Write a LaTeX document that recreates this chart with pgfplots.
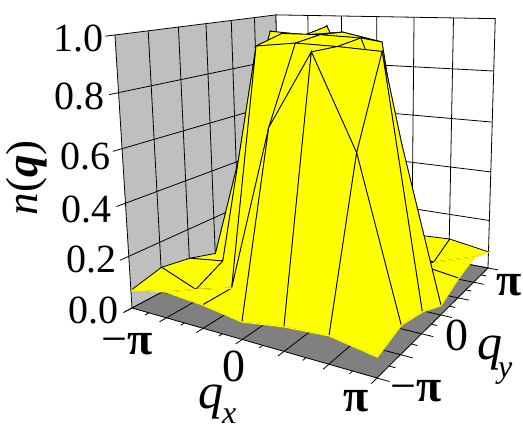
\documentclass[border=0pt]{standalone}
\usepackage{fontspec}
\setmainfont{Liberation Serif}
\usepackage{pgfplots}
\pgfplotsset{compat=1.18}

% camera: grid index i,j (0..6 = -pi..pi) and height w to picture pixels
\newcommand\DEN{(1-.1821*\thisrow{i}/6+.2812*\thisrow{j}/6-.0658*\thisrow{w})}
\newcommand\PX{(132+176.35*\thisrow{i}/6+228*\thisrow{j}/6-24.6*\thisrow{w})/\DEN}
\newcommand\PY{430-(308+1.17*\thisrow{i}/6-14.6*\thisrow{j}/6-275.3*\thisrow{w})/\DEN}
\pgfkeys{/pgfplots/table/cam/.style={x expr=\PX,y expr=\PY},
/pgfplots/table/surfcam/.style={x expr=\PX+5.5*\thisrow{w},y expr=\PY}}
\newcommand\lab{\fontsize{40}{40}\selectfont}
\newcommand\tick{\fontsize{46}{46}\selectfont}
\definecolor{yel}{rgb}{1,1,0}

\begin{document}
\begin{tikzpicture}
\begin{axis}[
width=523pt,height=430pt,scale only axis,
xmin=0,xmax=523,ymin=0,ymax=430,
hide axis,clip=false,no marks,
colormap={yy}{rgb255=(255,255,0) rgb255=(255,255,0)},
]
% walls and floor
\addplot[fill=black!25,draw=black,line width=.8pt] table[cam,row sep=\\]{i j w\\ 0 0 0\\ 0 6 0\\ 0 6 1\\ 0 0 1\\ 0 0 0\\};
\addplot[fill=white,draw=black,line width=.8pt] table[cam,row sep=\\]{i j w\\ 0 6 0\\ 6 6 0\\ 6 6 1\\ 0 6 1\\ 0 6 0\\};
\addplot[fill=black!50,draw=black,line width=.8pt] table[cam,row sep=\\]{i j w\\ 0 0 0\\ 6 0 0\\ 6 6 0\\ 0 6 0\\ 0 0 0\\};
% grid lines
\pgfplotsinvokeforeach{1,...,5}{
\addplot[black,line width=.8pt] table[cam,row sep=\\]{i j w\\ #1 0 0\\ #1 6 0\\};
\addplot[black,line width=.8pt] table[cam,row sep=\\]{i j w\\ 0 #1 0\\ 6 #1 0\\};
\addplot[black,line width=.8pt] table[cam,row sep=\\]{i j w\\ 0 #1 0\\ 0 #1 1\\};
\addplot[black,line width=.8pt] table[cam,row sep=\\]{i j w\\ #1 6 0\\ #1 6 1\\};
}
\pgfplotsinvokeforeach{0.2,0.4,0.6,0.8}{
\addplot[black,line width=.8pt] table[cam,row sep=\\]{i j w\\ 0 0 #1\\ 0 6 #1\\ 6 6 #1\\};
}
% ticks on the three outer edges
\pgfplotsinvokeforeach{0,1,...,6}{
\addplot[black,line width=.8pt] table[cam,row sep=\\]{i j w\\ #1 0 0\\ #1 -0.22 0\\};
\addplot[black,line width=.8pt] table[cam,row sep=\\]{i j w\\ 6 #1 0\\ 6.25 #1 0\\};
}
\pgfplotsinvokeforeach{0.5,1.5,2.5,3.5,4.5,5.5}{
\addplot[black,line width=.8pt] table[cam,row sep=\\]{i j w\\ #1 0 0\\ #1 -0.12 0\\};
\addplot[black,line width=.8pt] table[cam,row sep=\\]{i j w\\ 6 #1 0\\ 6.13 #1 0\\};
}
\pgfplotsinvokeforeach{0,0.2,0.4,0.6,0.8,1}{
\addplot[black,line width=.8pt] table[cam,row sep=\\]{i j w\\ 0 0 #1\\ 0 -0.27 #1\\};
}
% n(q) on the 7x7 grid, far row first
\addplot[surf,shader=faceted,faceted color=black,mesh/rows=7,mesh/cols=7,line width=.8pt,z buffer=none]
table[surfcam,row sep=\\]{
i j w\\
0 6 .068\\ 1 6 .095\\ 2 6 .085\\ 3 6 .0625\\ 4 6 .086\\ 5 6 .094\\ 6 6 .068\\
0 5 .10\\ 1 5 .64\\ 2 5 .97\\ 3 5 .69\\ 4 5 .085\\ 5 5 .05\\ 6 5 .103\\
0 4 .077\\ 1 4 .96\\ 2 4 .95\\ 3 4 .965\\ 4 4 .933\\ 5 4 .10\\ 6 4 .077\\
0 3 .045\\ 1 3 .60\\ 2 3 .97\\ 3 3 .97\\ 4 3 .963\\ 5 3 .60\\ 6 3 .035\\
0 2 .08\\ 1 2 .10\\ 2 2 .94\\ 3 2 .956\\ 4 2 .95\\ 5 2 .94\\ 6 2 .078\\
0 1 .10\\ 1 1 .045\\ 2 1 .085\\ 3 1 .69\\ 4 1 .95\\ 5 1 .64\\ 6 1 .10\\
0 0 .07\\ 1 0 .098\\ 2 0 .086\\ 3 0 .0625\\ 4 0 .085\\ 5 0 .095\\ 6 0 .068\\
};
% front and right rims of the surface carry no black line, nor do these folds
\addplot[yel,line width=1.3pt] table[surfcam,row sep=\\]{
i j w\\ 0 0 .07\\ 1 0 .098\\ 2 0 .086\\ 3 0 .0625\\ 4 0 .085\\ 5 0 .095\\ 6 0 .068\\
6 1 .10\\ 6 2 .078\\ 6 3 .035\\ 6 4 .077\\ 6 5 .103\\ 6 6 .068\\};
\addplot[yel,line width=1.3pt] table[surfcam,row sep=\\]{i j w\\ 1 0 .098\\ 1 1 .045\\ 2 1 .085\\};
\addplot[yel,line width=1.3pt] table[surfcam,row sep=\\]{i j w\\ 5 5 .05\\ 6 5 .103\\};
% labels
\tikzset{every node/.style={inner sep=0pt}}
\node[anchor=east] at (axis cs:104,392) {\lab 1.0};
\node[anchor=east] at (axis cs:105,334) {\lab 0.8};
\node[anchor=east] at (axis cs:111,274) {\lab 0.6};
\node[anchor=east] at (axis cs:112,221) {\lab 0.4};
\node[anchor=east] at (axis cs:117,171) {\lab 0.2};
\node[anchor=east] at (axis cs:119,120) {\lab 0.0};
\node[rotate=90] at (axis cs:27,252) {\fontsize{45}{45}\selectfont\itshape n\textnormal{(}\textbf{q}\textnormal{)}};
\node at (axis cs:127.5,86) {\tick −\textbf{π}};
\node at (axis cs:233.5,64) {\tick 0};
\node at (axis cs:356,28.5) {\tick\textbf{π}};
\node[anchor=base west] at (axis cs:198,21) {\fontsize{50}{50}\selectfont\itshape q\hspace{-1pt}\raisebox{-15pt}{\fontsize{32}{32}\selectfont x}};
\node at (axis cs:509,145) {\tick\textbf{π}};
\node at (axis cs:456.5,95) {\tick 0};
\node at (axis cs:416,39) {\tick −\textbf{π}};
\node[anchor=base west] at (axis cs:477,70) {\fontsize{50}{50}\selectfont\itshape q\hspace{-4pt}\raisebox{-18pt}{\fontsize{32}{32}\selectfont y}};
\end{axis}
\pgfresetboundingbox
\path[use as bounding box] (0,0) rectangle (523pt,430pt);
\end{tikzpicture}
\end{document}
